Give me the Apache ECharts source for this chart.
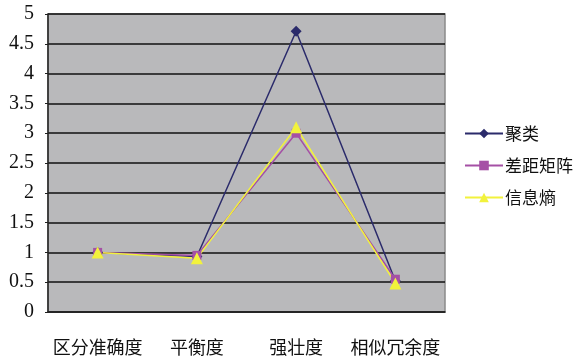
<!DOCTYPE html>
<html>
<head>
<meta charset="utf-8">
<script src="https://cdn.jsdelivr.net/npm/echarts@6/dist/echarts.min.js"></script>
<style>
  html, body { margin: 0; padding: 0; background: #fff; }
  #chart { width: 578px; height: 360px; }
</style>
</head>
<body>
<div id="chart"></div>
<script>
const categories = ["区分准确度", "平衡度", "强壮度", "相似冗余度"]
const clustering = [1.0, 0.93, 4.71, 0.52]
const distMatrix = [1.0, 0.95, 3.0, 0.55]
const entropy = [1.0, 0.9, 3.1, 0.48]

const chart = echarts.init(document.getElementById("chart"))

const numFont = "Liberation Serif"
const cjkFont = "Noto Sans CJK SC"

const option = {
  animation: false,
  backgroundColor: "#ffffff",
  grid: {
    left: 48,
    right: 133,
    top: 14,
    bottom: 48,
    show: true,
    backgroundColor: "#b9b9bb",
    borderColor: "#8a8a8a",
    borderWidth: 1.5,
  },
  legend: {
    orient: "vertical",
    left: 459,
    top: 120,
    itemWidth: 38,
    itemHeight: 12,
    itemGap: 15,
    textStyle: {
      fontFamily: cjkFont,
      fontSize: 17,
      color: "#111",
      padding: [0, 0, 0, -3],
    },
    data: ["聚类", "差距矩阵", "信息熵"],
  },
  xAxis: {
    type: "category",
    data: categories,
    boundaryGap: true,
    axisLine: { lineStyle: { color: "#222", width: 1.5 } },
    axisTick: { inside: true, length: 7, lineStyle: { color: "#222" } },
    axisLabel: {
      interval: 0,
      margin: 26,
      fontFamily: cjkFont,
      fontSize: 18,
      color: "#111",
    },
  },
  yAxis: {
    type: "value",
    min: 0,
    max: 5,
    interval: 0.5,
    axisLine: { show: true, lineStyle: { color: "#222", width: 1.5 } },
    axisTick: { show: true, length: 3, lineStyle: { color: "#222" } },
    axisLabel: {
      margin: 14,
      fontFamily: numFont,
      fontSize: 20,
      color: "#111",
    },
    splitLine: { lineStyle: { color: "#111", width: 1.5 } },
  },
  series: [
    {
      name: "聚类",
      type: "line",
      data: clustering,
      symbol: "diamond",
      symbolSize: 11,
      color: "#2b2b6b",
      lineStyle: { width: 1.5 },
    },
    {
      name: "差距矩阵",
      type: "line",
      data: distMatrix,
      symbol: "rect",
      symbolSize: 9,
      color: "#a550a5",
      lineStyle: { width: 1.5 },
    },
    {
      name: "信息熵",
      type: "line",
      data: entropy,
      symbol: "triangle",
      symbolSize: 12,
      color: "#f2f23c",
      lineStyle: { width: 1.5 },
    },
  ],
}

chart.setOption(option)
</script>
</body>
</html>
